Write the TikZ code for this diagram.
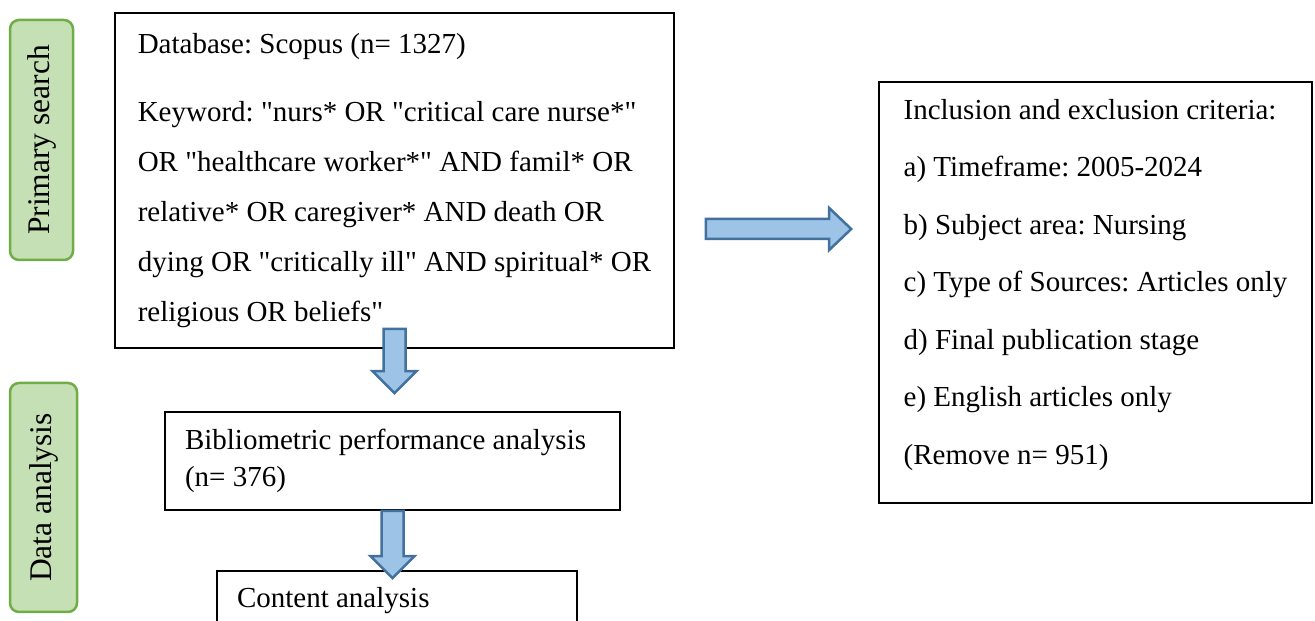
\documentclass[tikz,border=0pt]{standalone}
\usepackage{fontspec}
\setmainfont{Liberation Serif}[Ligatures=TeXOff]
\frenchspacing
\usetikzlibrary{calc,positioning}
\definecolor{grnfill}{HTML}{C5E0B4}
\definecolor{grnline}{HTML}{70AD47}
\definecolor{blufill}{HTML}{9DC3E6}
\definecolor{bluline}{HTML}{41719C}
\newcommand{\dnblk}[2]{\draw[blk] ($(#1)+(-11,0)$) -- ($(#2)+(-11,22)$) -- ($(#2)+(-22,22)$) -- (#2) -- ($(#2)+(22,22)$) -- ($(#2)+(11,22)$) -- ($(#1)+(11,0)$) -- cycle;}
\newcommand{\rtblk}[2]{\draw[blk] ($(#1)+(0,10)$) -- ($(#2)+(-22,10)$) -- ($(#2)+(-22,21)$) -- (#2) -- ($(#2)+(-22,-21)$) -- ($(#2)+(-22,-10)$) -- ($(#1)+(0,-10)$) -- cycle;}
\tikzset{
  box/.style={draw,line width=1.6pt,align=flush left,inner xsep=20pt,inner ysep=0pt},
  stage/.style={draw=grnline,fill=grnfill,line width=2.5pt,rounded corners=9pt,rotate=90,inner sep=0pt,font=\fontsize{31.5}{34}\selectfont},
  blk/.style={draw=bluline,fill=blufill,line width=2.5pt,line join=miter},
}
\begin{document}
\begin{tikzpicture}[x=1pt,y=1pt]
 \useasboundingbox (0,0) rectangle (1315,621);
 \clip (0,0) rectangle (1315,621);
 % stages
 \node[stage,minimum width=240pt,minimum height=63pt] (ps) at (41.5,481) {Primary search};
 \node[stage,minimum width=229pt,minimum height=67pt] (da) at (43.5,123.5) {Data analysis};
 % boxes
 \node[box,minimum width=559pt,minimum height=335pt,font=\fontsize{29}{50}\selectfont] (srch) at (394.5,440.5)
  {Database: Scopus (n= 1327)\\[18pt]Keyword: "nurs* OR "critical care nurse*"\\OR "healthcare worker*" AND famil* OR\\relative* OR caregiver* AND death OR\\dying OR "critically ill" AND spiritual* OR\\religious OR beliefs"};
 \node[box,minimum width=433pt,minimum height=421pt,text depth=22pt,font=\fontsize{29}{57.5}\selectfont] (crit) at (1095.5,328.5)
  {Inclusion and exclusion criteria:\\a) Timeframe: 2005-2024\\b) Subject area: Nursing\\c) Type of Sources: Articles only\\d) Final publication stage\\e) English articles only\\(Remove n= 951)};
 \node[box,text width=415pt,minimum height=98pt,font=\fontsize{29}{37}\selectfont] (biblio) at (392.5,160)
  {Bibliometric performance analysis\\(n= 376)};
 \node[box,text width=320pt,minimum height=60pt,font=\fontsize{29}{37}\selectfont] (content) at (397,20) {Content analysis};
 % block arrows
 \coordinate (t1) at ([yshift=20pt]srch.south); \coordinate (h1) at ([yshift=18pt]t1 |- biblio.north);
 \coordinate (t2) at (biblio.south); \coordinate (h2) at ([yshift=-8pt]t2 |- content.north);
 \coordinate (t3) at ($(srch.east)+(31,-48.5)$); \coordinate (h3) at ([xshift=-27pt]crit.west |- t3);
 \dnblk{t1}{h1} \dnblk{t2}{h2} \rtblk{t3}{h3}
\end{tikzpicture}
\end{document}
